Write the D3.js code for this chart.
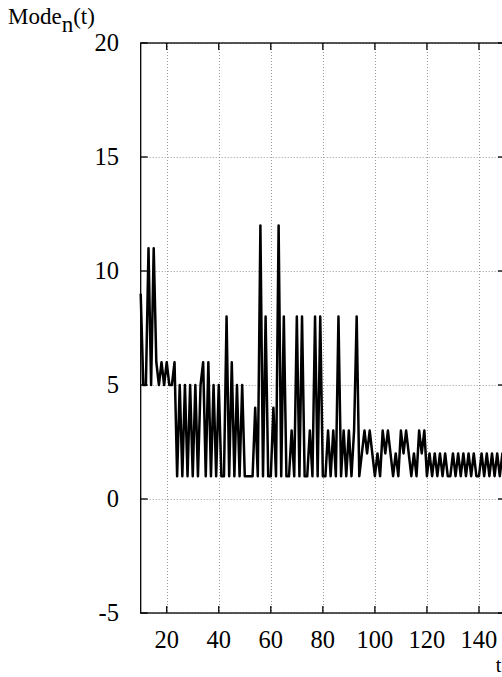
<!DOCTYPE html>
<html>
<head>
<meta charset="utf-8">
<script src="https://cdn.jsdelivr.net/npm/d3@7"></script>
<style>
  body { margin: 0; background: #fff; }
</style>
</head>
<body>
<figure id="chart" style="margin:0"></figure>
<script>
// time steps start at t = 10, one value per step
const tStart = 10;
const modeValues = [
  9, 5, 5, 11, 5, 11, 6, 5, 6, 5, 6, 5, 5, 6, 1,      // 10..24
  5, 1, 5, 1, 5, 1, 5, 1, 5, 6, 1, 6, 1, 5, 1,        // 25..39
  5, 1, 1, 8, 1, 6, 1, 5, 1, 5, 1, 1, 1, 1, 4,        // 40..54
  1, 12, 1, 8, 1, 1, 4, 1, 12, 1, 8, 1, 1, 3, 1,      // 55..69
  8, 1, 8, 1, 1, 3, 1, 8, 1, 8, 1, 1, 3, 1, 3,        // 70..84
  1, 8, 1, 3, 1, 3, 1, 3, 8, 1, 2, 3, 2, 3, 2,        // 85..99
  1, 2, 1, 3, 2, 3, 2, 1, 2, 1, 3, 2, 3, 2, 1,        // 100..114
  2, 1, 3, 2, 3, 1, 2, 1, 2, 1, 2, 1, 2, 1, 1,        // 115..129
  2, 1, 2, 1, 2, 1, 2, 1, 2, 1, 1, 2, 1, 2, 1,        // 130..144
  2, 1, 2, 1, 2, 1                                    // 145..150
];
const xTicks = [20, 40, 60, 80, 100, 120, 140];
const yTicks = [-5, 0, 5, 10, 15, 20];
const xDomain = [10, 150];
const yDomain = [-5, 20];

const width = 502;
const height = 677;
const plot = { left: 140.7, right: 505, top: 43, bottom: 613 };
const serif = "'Liberation Serif', 'Times New Roman', Times, 'DejaVu Serif', serif";

const data = modeValues.map((v, i) => ({ t: tStart + i, v: v }));

const svg = d3.select("figure#chart")
  .append("svg")
  .attr("width", width)
  .attr("height", height)
  .attr("font-family", serif)
  .style("display", "block");

const x = d3.scaleLinear().domain(xDomain).range([plot.left, plot.right]);
const y = d3.scaleLinear().domain(yDomain).range([plot.bottom, plot.top]);

// dotted grid
const grid = svg.append("g")
  .attr("stroke", "#999")
  .attr("stroke-width", 1)
  .attr("stroke-dasharray", "1,2");

grid.selectAll("line.gx")
  .data(xTicks)
  .enter()
  .append("line")
  .attr("x1", d => Math.round(x(d)) + 0.5)
  .attr("x2", d => Math.round(x(d)) + 0.5)
  .attr("y1", plot.top)
  .attr("y2", plot.bottom);

grid.selectAll("line.gy")
  .data(yTicks)
  .enter()
  .append("line")
  .attr("x1", plot.left)
  .attr("x2", plot.right)
  .attr("y1", d => Math.round(y(d)) + 0.5)
  .attr("y2", d => Math.round(y(d)) + 0.5);

// mirrored ticks, gnuplot style (inward)
const tickLen = 7;
const ticks = svg.append("g").attr("stroke", "#000").attr("stroke-width", 1.3);
xTicks.forEach(d => {
  ticks.append("line").attr("x1", x(d)).attr("x2", x(d)).attr("y1", plot.bottom).attr("y2", plot.bottom - tickLen);
  ticks.append("line").attr("x1", x(d)).attr("x2", x(d)).attr("y1", plot.top).attr("y2", plot.top + tickLen);
});
yTicks.forEach(d => {
  ticks.append("line").attr("x1", plot.left).attr("x2", plot.left + tickLen).attr("y1", y(d)).attr("y2", y(d));
  ticks.append("line").attr("x1", plot.right).attr("x2", plot.right - tickLen).attr("y1", y(d)).attr("y2", y(d));
});

// data line
const line = d3.line()
  .x(d => x(d.t))
  .y(d => y(d.v));

svg.append("path")
  .datum(data)
  .attr("fill", "none")
  .attr("stroke", "#000")
  .attr("stroke-width", 2.5)
  .attr("stroke-linejoin", "round")
  .attr("d", line);

// frame
svg.append("rect")
  .attr("x", plot.left)
  .attr("y", plot.top)
  .attr("width", plot.right - plot.left)
  .attr("height", plot.bottom - plot.top)
  .attr("fill", "none")
  .attr("stroke", "#000")
  .attr("stroke-width", 1.3);

// tick labels
svg.append("g")
  .selectAll("text")
  .data(xTicks)
  .enter()
  .append("text")
  .attr("x", d => x(d))
  .attr("y", 648)
  .attr("text-anchor", "middle")
  .attr("font-size", 24.5)
  .text(d => d);

svg.append("g")
  .selectAll("text")
  .data(yTicks)
  .enter()
  .append("text")
  .attr("x", 119)
  .attr("y", d => y(d) + 8)
  .attr("text-anchor", "end")
  .attr("font-size", 24.5)
  .text(d => d);

// axis titles
const yTitle = svg.append("text")
  .attr("x", 8)
  .attr("y", 24)
  .attr("font-size", 23);
yTitle.append("tspan").text("Mode");
yTitle.append("tspan").attr("dy", 8).text("n");
yTitle.append("tspan").attr("dy", -8).text("(t)");

svg.append("text")
  .attr("x", 498.5)
  .attr("y", 672)
  .attr("text-anchor", "middle")
  .attr("font-size", 20)
  .text("t");
</script>
</body>
</html>
